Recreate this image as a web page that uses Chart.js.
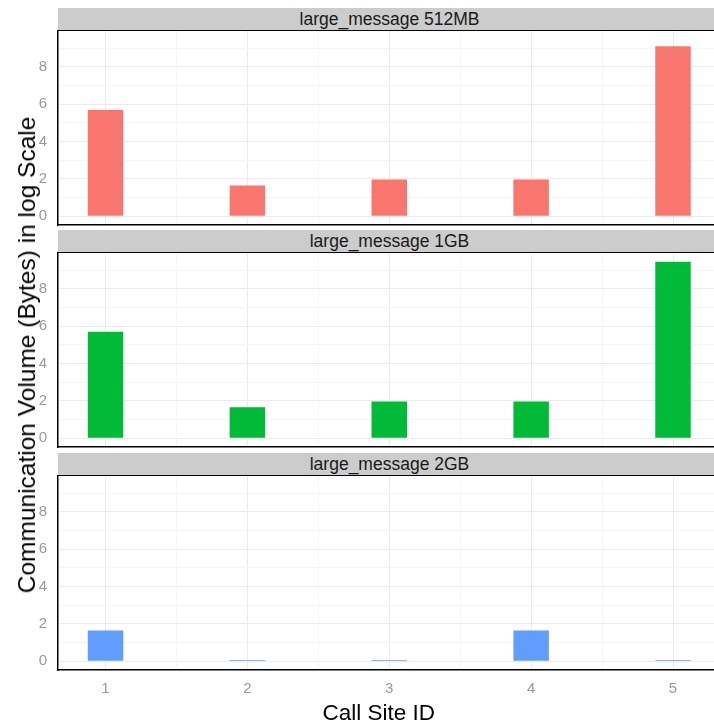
<!DOCTYPE html>
<html>
<head>
<meta charset="utf-8">
<script src="https://cdn.jsdelivr.net/npm/chart.js@4/dist/chart.umd.min.js"></script>
<style>
  body { margin: 0; background: #fff; font-family: "Liberation Sans", Arial, sans-serif; }
  #wrap { position: relative; width: 714px; height: 725px; overflow: hidden; }
  #wrap canvas { position: absolute; left: 0; }
  .strip {
    position: absolute; left: 58px; width: 649px; height: 22px; padding-left: 7px;
    background: #cccccc; border-bottom: 1.5px solid #000;
    font-size: 17.5px; line-height: 23px; text-align: center; color: #1a1a1a;
  }
  .title { position: absolute; white-space: nowrap; color: #000; }
  #xTitle { left: 378.7px; top: 701.5px; font-size: 22.5px; line-height: 22px; transform: translateX(-50%); }
  #yTitle { left: 26.5px; top: 355px; font-size: 24.5px; line-height: 24px; transform: translate(-50%, -50%) rotate(-90deg); }
</style>
</head>
<body>
<div id="wrap">
  <canvas id="panel0" width="714" height="218" style="top:19px"></canvas>
  <canvas id="panel1" width="714" height="218" style="top:241px"></canvas>
  <canvas id="panel2" width="714" height="261" style="top:464px"></canvas>
  <div class="strip" id="strip0" style="top:8px"></div>
  <div class="strip" id="strip1" style="top:230px"></div>
  <div class="strip" id="strip2" style="top:453px"></div>
  <div class="title" id="xTitle">Call Site ID</div>
  <div class="title" id="yTitle">Communication Volume (Bytes) in log Scale</div>
</div>
<script>
// data (log scale volumes)
const callSites = [1, 2, 3, 4, 5];
const panelNames = ["large_message 512MB", "large_message 1GB", "large_message 2GB"];
const vol512MB = [5.69, 1.64, 1.96, 1.96, 9.10];
const vol1GB = [5.70, 1.65, 1.96, 1.96, 9.44];
const vol2GB = [1.64, 0.06, 0.06, 1.64, 0.06];
const panelColors = ["#F8766D", "#00BA38", "#619CFF"];

// ticks
const yTicks = [0, 2, 4, 6, 8];
const yMinor = [1, 3, 5, 7, 9];
const xTicks = [1, 2, 3, 4, 5];
const xMinor = [1.5, 2.5, 3.5, 4.5];

const MAJOR = "#ebebeb";
const MINOR = "#f5f5f5";

// minor gridlines get the lighter colour
function gridColor(minor) {
  return ctx => (ctx.tick && minor.includes(ctx.tick.value)) ? MINOR : MAJOR;
}

function makePanel(idx, values, showX) {
  const allY = yTicks.concat(yMinor).sort((a, b) => a - b);
  const allX = xTicks.concat(xMinor).sort((a, b) => a - b);

  return new Chart(document.getElementById("panel" + idx), {
    type: "bar",
    data: {
      datasets: [{
        data: callSites.map((c, i) => ({ x: c, y: values[i] })),
        backgroundColor: panelColors[idx],
        barPercentage: 0.5,
        categoryPercentage: 1
      }]
    },
    options: {
      responsive: false,
      animation: false,
      layout: { padding: { top: 12, bottom: showX ? 0 : 12, left: 0, right: 0 } },
      plugins: { legend: { display: false }, tooltip: { enabled: false } },
      scales: {
        x: {
          type: "linear",
          offset: false,
          min: 0.665,
          max: 5.289,
          afterBuildTicks: s => { s.ticks = allX.map(v => ({ value: v })); },
          afterFit: s => { s.height = showX ? 55 : 0; },
          grid: { offset: false, drawTicks: false, color: gridColor(xMinor) },
          border: { color: "#000", width: 1.5 },
          ticks: {
            display: showX,
            padding: 10,
            color: "#999999",
            font: { family: "Liberation Sans", size: 15 },
            maxRotation: 0,
            autoSkip: false,
            callback: v => xTicks.includes(v) ? String(v) : ""
          }
        },
        y: {
          min: -0.472,
          max: 9.912,
          afterBuildTicks: s => { s.ticks = allY.map(v => ({ value: v })); },
          afterFit: s => { s.width = 58; },
          grid: {
            drawTicks: true,
            tickLength: 11,
            tickColor: "rgba(0,0,0,0)",
            color: gridColor(yMinor)
          },
          border: { color: "#000", width: 1.5 },
          ticks: {
            padding: 0,
            color: "#999999",
            font: { family: "Liberation Sans", size: 15 },
            autoSkip: false,
            callback: v => yTicks.includes(v) ? String(v) : ""
          }
        }
      }
    }
  });
}

panelNames.forEach((name, i) => {
  document.getElementById("strip" + i).textContent = name;
});

makePanel(0, vol512MB, false);
makePanel(1, vol1GB, false);
makePanel(2, vol2GB, true);
</script>
</body>
</html>
